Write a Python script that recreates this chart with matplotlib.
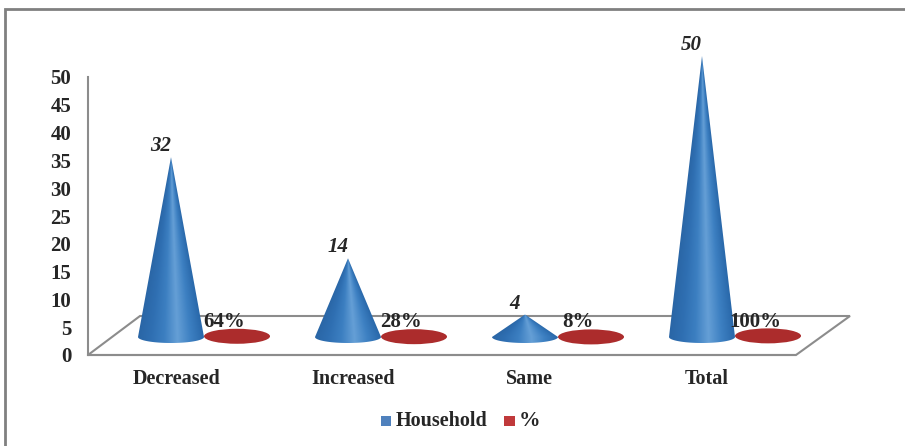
import numpy as np
import matplotlib
matplotlib.use("Agg")
import matplotlib.pyplot as plt
from matplotlib.colors import LinearSegmentedColormap
from matplotlib.patches import Ellipse, PathPatch, Polygon, Rectangle
from matplotlib.path import Path

categories = ["Decreased", "Increased", "Same", "Total"]
household = [32, 14, 4, 50]
percent = [0.64, 0.28, 0.08, 1.00]
percent_labels = ["64%", "28%", "8%", "100%"]
y_ticks = [0, 5, 10, 15, 20, 25, 30, 35, 40, 45, 50]

W, H = 905, 446
plt.rcParams["font.family"] = ["Liberation Serif", "DejaVu Serif"]
plt.rcParams["font.weight"] = "bold"
TEXT = "#262626"
GREY = "#8c8c8c"

blues = LinearSegmentedColormap.from_list(
    "b", ["#2a66a6", "#2f6fb2", "#3c7fc1", "#659fd6", "#3d80c2", "#2968aa"])

fig = plt.figure(figsize=(W / 100, H / 100), dpi=100, facecolor="white")


def px_axes(left, right, top, bottom):
    return fig.add_axes([left / W, 1 - bottom / H, (right - left) / W, (bottom - top) / H])


# outer border
fig.add_artist(Rectangle((5 / W, -0.02), 1.02, 1 - 9 / H + 0.02, transform=fig.transFigure,
                         fill=False, ec="#808080", lw=2))

# axis frame, value scale of the ticks
ax = px_axes(88, 795, 77, 355)
ax.set_ylim(0, 50)
ax.set_xlim(-0.5, 3.5)
ax.patch.set_alpha(0)
for s in ("top", "right"):
    ax.spines[s].set_visible(False)
for s in ("left", "bottom"):
    ax.spines[s].set_color(GREY)
    ax.spines[s].set_linewidth(1.5)
ax.set_yticks(y_ticks)
ax.tick_params(axis="y", length=0, pad=12, labelsize=15, labelcolor=TEXT)
ax.set_xticks(range(4))
ax.set_xticklabels(categories, fontsize=14.5, color=TEXT)
ax.tick_params(axis="x", length=0, pad=10)

# floor of the 3d chart, drawn in pixels of the figure, behind the cones
floor = Polygon([(88 / W, 1 - 355 / H), (140 / W, 1 - 316 / H), (850 / W, 1 - 316 / H),
                 (796 / W, 1 - 355 / H)], closed=True, transform=fig.transFigure,
                fill=False, ec=GREY, lw=1.5, zorder=-1)
fig.add_artist(floor)

# cones live on their own scale: base plane at y=0, 337 px down the figure
PX = 5.62
cx = px_axes(0, W, 0, 400)
xlim = ((0 - 171) / 177, (W - 171) / 177)
ylim = (-63 / PX, 337 / PX)
cx.set_xlim(xlim)
cx.set_ylim(ylim)
cx.axis("off")
cx.patch.set_alpha(0)
half_w = 33 / 177
half_h = 6 / PX


def cone(x0, value, cmap, hh=half_h):
    t = np.linspace(np.pi, 2 * np.pi, 40)
    verts = [(x0, value)] + list(zip(x0 + half_w * np.cos(t), hh * np.sin(t))) + [(x0, value)]
    patch = PathPatch(Path(verts), fc="none", ec="none", transform=cx.transData)
    cx.add_patch(patch)
    # shading follows the surface: it narrows with the cone towards the tip
    u = np.linspace(-1, 1, 200)
    h = np.linspace(value, -hh, 300)
    width = np.clip(1 - h / value, 0.01, 1)
    shade = np.clip(u[None, :] / width[:, None], -1, 1)
    im = cx.imshow((shade + 1) / 2, extent=[x0 - half_w, x0 + half_w, -hh, value],
                   cmap=cmap, vmin=0, vmax=1, aspect="auto", zorder=3, interpolation="bilinear")
    im.set_clip_path(patch)


for i, (v, p) in enumerate(zip(household, percent)):
    cone(i, v, blues)
    cx.add_patch(Ellipse((i + 0.373, p * 0.2), 2 * half_w, 2 * 7.5 / PX, fc="#ac2c2c", ec="none", zorder=3))
    cx.text(i - 0.058, v + 11 / PX, str(v), ha="center", va="center", fontsize=15,
            style="italic", color=TEXT, zorder=5)
    cx.text(i + 0.3, 15 / PX, percent_labels[i], ha="center", va="center", fontsize=15,
            color=TEXT, zorder=5)
cx.set_xlim(xlim)
cx.set_ylim(ylim)

# legend
fig.add_artist(Rectangle((381 / W, 1 - 426 / H), 10 / W, 10 / H, transform=fig.transFigure, fc="#4f81bd", ec="none"))
fig.add_artist(Rectangle((504 / W, 1 - 426 / H), 11 / W, 10 / H, transform=fig.transFigure, fc="#c0393b", ec="none"))
fig.text(396 / W, 1 - 421 / H, "Household", fontsize=14.5, va="center", color=TEXT)
fig.text(519 / W, 1 - 421 / H, "%", fontsize=15.5, va="center", color=TEXT)

fig.savefig("out.png", dpi=100)
